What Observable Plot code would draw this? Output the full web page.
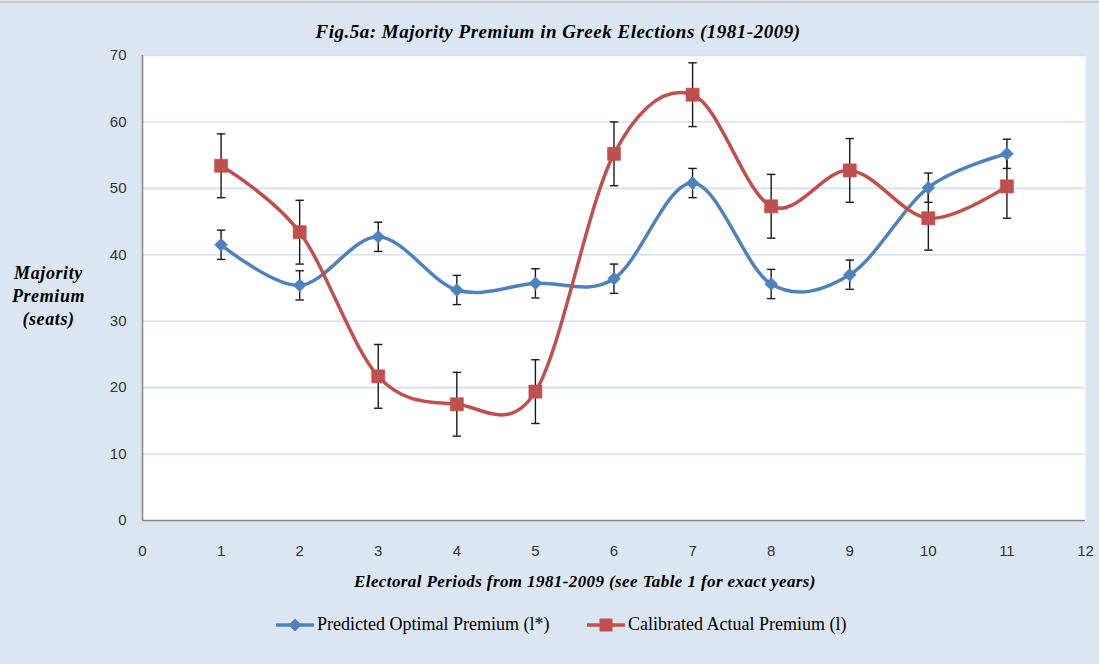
<!DOCTYPE html>
<html><head><meta charset="utf-8">
<script src="https://cdn.jsdelivr.net/npm/d3@7"></script>
<script src="https://cdn.jsdelivr.net/npm/@observablehq/plot@0.6"></script>
<style>
body{margin:0;background:#fff;}
#fig{position:relative;width:1099px;height:664px;background:#dce6f2;overflow:hidden;}
#topline{position:absolute;left:0;top:1px;width:1099px;height:2px;background:#c8c8c8;}
#chart{position:absolute;left:0;top:0;}
.serif{font-family:"Liberation Serif","Times New Roman",serif;color:#000;}
#title{position:absolute;left:0;width:1116px;top:21px;text-align:center;font-weight:bold;font-style:italic;font-size:19px;letter-spacing:0.5px;white-space:nowrap;}
#xlabel{position:absolute;left:0;width:1170px;top:572px;text-align:center;font-weight:bold;font-style:italic;font-size:17px;letter-spacing:0.4px;white-space:nowrap;}
#ylabel{position:absolute;left:0;width:97px;top:262px;text-align:center;font-weight:bold;font-style:italic;font-size:18px;letter-spacing:0.6px;line-height:23px;}
.leg{position:absolute;top:614px;display:flex;align-items:center;font-size:18px;white-space:nowrap;}
.leg svg{margin-right:3px;}
</style></head><body>
<div id="fig">
  <div id="topline"></div>
  <div id="chart"></div>
  <div id="title" class="serif"></div>
  <div id="ylabel" class="serif"></div>
  <div id="xlabel" class="serif"></div>
  <div id="leg1" class="leg serif" style="left:276px"></div>
  <div id="leg2" class="leg serif" style="left:587px"></div>
</div>
<script>
// ---- data ----
const titleText = "Fig.5a: Majority Premium in Greek Elections (1981-2009)";
const xTitle = "Electoral Periods from 1981-2009 (see Table 1 for exact years)";
const yTitleLines = ["Majority", "Premium", "(seats)"];
const seriesNames = ["Predicted Optimal Premium (l*)", "Calibrated Actual Premium (l)"];
const periods = [1, 2, 3, 4, 5, 6, 7, 8, 9, 10, 11];
const predicted = [41.5, 35.4, 42.7, 34.7, 35.7, 36.4, 50.8, 35.6, 37.0, 50.1, 55.2];
const calibrated = [53.4, 43.4, 21.7, 17.5, 19.4, 55.2, 64.1, 47.3, 52.7, 45.5, 50.3];
const predictedErr = [2.2, 2.2, 2.2, 2.2, 2.2, 2.2, 2.2, 2.2, 2.2, 2.2, 2.2];
const calibratedErr = [4.8, 4.8, 4.8, 4.8, 4.8, 4.8, 4.8, 4.8, 4.8, 4.8, 4.8];
const xTicks = [0, 1, 2, 3, 4, 5, 6, 7, 8, 9, 10, 11, 12];
const yTicks = [0, 10, 20, 30, 40, 50, 60, 70];

const blue = "#4f81bd", red = "#c0504d", errColor = "#1a1a1a";

const rows = periods.map((p, i) => ({
  period: p, predicted: predicted[i], calibrated: calibrated[i],
  pErr: predictedErr[i], cErr: calibratedErr[i]
}));

const diamond = {draw(ctx, size) {const r = Math.sqrt(size / Math.PI); ctx.moveTo(0, -r); ctx.lineTo(r, 0); ctx.lineTo(0, r); ctx.lineTo(-r, 0); ctx.closePath();}};
const square = {draw(ctx, size) {const r = Math.sqrt(size / Math.PI); ctx.rect(-r, -r, 2 * r, 2 * r);}};
const cap = {draw(ctx, size) {const r = Math.sqrt(size / Math.PI); ctx.moveTo(-r, 0); ctx.lineTo(r, 0);}};

const tickFont = "'Liberation Sans', Arial, sans-serif";

const chart = Plot.plot({
  width: 1099, height: 600,
  marginTop: 55, marginBottom: 80, marginLeft: 142, marginRight: 14,
  x: {domain: [0, 12]},
  y: {domain: [0, 70]},
  style: {background: "transparent", fontFamily: tickFont, fontSize: "15px", color: "#333", overflow: "visible"},
  marks: [
    Plot.frame({fill: "white", stroke: null}),
    Plot.ruleY(yTicks.filter(v => v > 0), {stroke: "#d5dff0", strokeWidth: 1.6}),
    Plot.ruleX([0], {stroke: "#8a8a8a", strokeWidth: 1.6}),
    Plot.ruleY([0], {stroke: "#8a8a8a", strokeWidth: 1.6}),
    Plot.axisY(yTicks, {tickSize: 0, tickPadding: 16, fontSize: 15, fill: "#333", label: null}),
    Plot.axisX(xTicks, {tickSize: 0, tickPadding: 25, fontSize: 15, fill: "#333", label: null}),
    // lines
    Plot.line(rows, {x: "period", y: "predicted", curve: "cardinal", stroke: blue, strokeWidth: 3.5}),
    Plot.line(rows, {x: "period", y: "calibrated", curve: "cardinal", stroke: red, strokeWidth: 3.5}),
    // error bars
    Plot.ruleX(rows, {x: "period", y1: d => d.predicted - d.pErr, y2: d => d.predicted + d.pErr, stroke: errColor, strokeWidth: 1.4}),
    Plot.ruleX(rows, {x: "period", y1: d => d.calibrated - d.cErr, y2: d => d.calibrated + d.cErr, stroke: errColor, strokeWidth: 1.4}),
    Plot.dot(rows, {x: "period", y: d => d.predicted - d.pErr, symbol: cap, r: 4.2, stroke: errColor, fill: "none", strokeWidth: 1.4}),
    Plot.dot(rows, {x: "period", y: d => d.predicted + d.pErr, symbol: cap, r: 4.2, stroke: errColor, fill: "none", strokeWidth: 1.4}),
    Plot.dot(rows, {x: "period", y: d => d.calibrated - d.cErr, symbol: cap, r: 4.2, stroke: errColor, fill: "none", strokeWidth: 1.4}),
    Plot.dot(rows, {x: "period", y: d => d.calibrated + d.cErr, symbol: cap, r: 4.2, stroke: errColor, fill: "none", strokeWidth: 1.4}),
    // markers
    Plot.dot(rows, {x: "period", y: "predicted", symbol: diamond, r: 6.5, fill: blue, stroke: blue, strokeWidth: 0.5}),
    Plot.dot(rows, {x: "period", y: "calibrated", symbol: square, r: 6.6, fill: red, stroke: red, strokeWidth: 0.5})
  ]
});
document.getElementById("chart").appendChild(chart);

document.getElementById("title").textContent = titleText;
document.getElementById("xlabel").textContent = xTitle;
document.getElementById("ylabel").innerHTML = yTitleLines.join("<br>");

function swatch(color, kind) {
  const ns = "http://www.w3.org/2000/svg";
  const s = document.createElementNS(ns, "svg");
  s.setAttribute("width", 38); s.setAttribute("height", 16);
  const l = document.createElementNS(ns, "line");
  l.setAttribute("x1", 0); l.setAttribute("x2", 38); l.setAttribute("y1", 8); l.setAttribute("y2", 8);
  l.setAttribute("stroke", color); l.setAttribute("stroke-width", 3.5);
  s.appendChild(l);
  if (kind === "diamond") {
    const p = document.createElementNS(ns, "path");
    p.setAttribute("d", "M19,1.5L25.5,8L19,14.5L12.5,8Z"); p.setAttribute("fill", color);
    s.appendChild(p);
  } else {
    const r = document.createElementNS(ns, "rect");
    r.setAttribute("x", 12.5); r.setAttribute("y", 1.5); r.setAttribute("width", 13); r.setAttribute("height", 13); r.setAttribute("fill", color);
    s.appendChild(r);
  }
  return s;
}
const l1 = document.getElementById("leg1");
l1.appendChild(swatch(blue, "diamond")); l1.appendChild(document.createTextNode(seriesNames[0]));
const l2 = document.getElementById("leg2");
l2.appendChild(swatch(red, "square")); l2.appendChild(document.createTextNode(seriesNames[1]));
</script>
</body></html>
